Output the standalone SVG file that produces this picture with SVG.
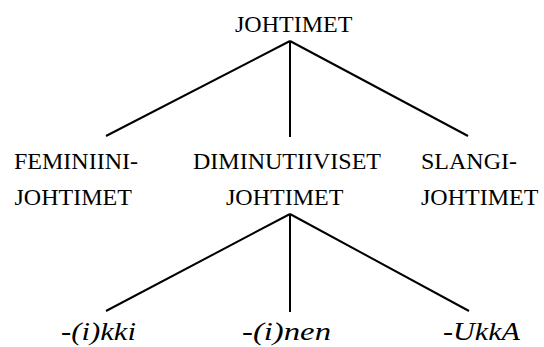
<svg xmlns="http://www.w3.org/2000/svg" width="544" height="347" viewBox="0 0 544 347">
<rect width="544" height="347" fill="#fff"/>
<g id="connectors" stroke="#000" stroke-width="2">
<line x1="290" y1="41" x2="106" y2="136"/>
<line x1="290" y1="41" x2="290" y2="137"/>
<line x1="290" y1="41" x2="468" y2="136"/>
<line x1="290" y1="214" x2="106" y2="311"/>
<line x1="290" y1="214" x2="290" y2="312"/>
<line x1="290" y1="214" x2="469" y2="311"/>
</g>
<g id="root"><text x="235" y="32" font-family="Liberation Serif, serif" font-size="24">JOHTIMET</text></g>
<g id="feminiini"><text x="14" y="169" font-family="Liberation Serif, serif" font-size="24">FEMINIINI-</text><text x="14.5" y="205" font-family="Liberation Serif, serif" font-size="24">JOHTIMET</text></g>
<g id="diminutiiviset"><text x="193" y="169" font-family="Liberation Serif, serif" font-size="24">DIMINUTIIVISET</text><text x="226" y="205" font-family="Liberation Serif, serif" font-size="24">JOHTIMET</text></g>
<g id="slangi"><text x="421" y="169" font-family="Liberation Serif, serif" font-size="24">SLANGI-</text><text x="421" y="205" font-family="Liberation Serif, serif" font-size="24">JOHTIMET</text></g>
<g id="ikki"><text x="61" y="340" font-family="Liberation Serif, serif" font-style="italic" font-size="26" textLength="75" lengthAdjust="spacingAndGlyphs">-(i)kki</text></g>
<g id="inen"><text x="242" y="340" font-family="Liberation Serif, serif" font-style="italic" font-size="26" textLength="89" lengthAdjust="spacingAndGlyphs">-(i)nen</text></g>
<g id="ukka"><text x="443" y="340" font-family="Liberation Serif, serif" font-style="italic" font-size="26" textLength="77" lengthAdjust="spacingAndGlyphs">-UkkA</text></g>
</svg>
